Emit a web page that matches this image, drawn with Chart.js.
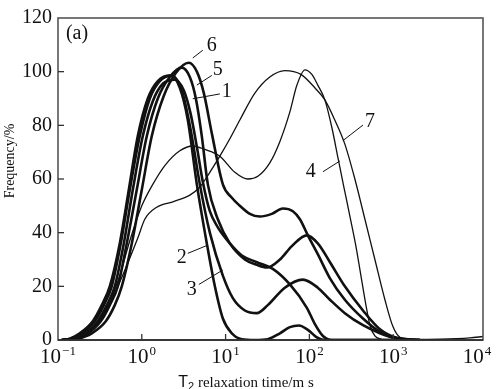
<!DOCTYPE html>
<html>
<head>
<meta charset="utf-8">
<script src="https://cdn.jsdelivr.net/npm/chart.js@4.4.1/dist/chart.umd.min.js"></script>
<style>
  body { margin: 0; background: #fff; }
  canvas { display: block; }
</style>
</head>
<body>
<canvas id="chart" width="498" height="389" style="width:498px;height:389px"></canvas>
<script>
// axis ticks
const t2Ticks = [0.1, 1, 10, 100, 1000, 10000];
const t2TickExp = ['\u22121', '0', '1', '2', '3', '4'];
const freqTicks = [0, 20, 40, 60, 80, 100, 120];

// curve 1
const curve1T2 = [0.111, 0.150, 0.209, 0.298, 0.382, 0.476, 0.610, 0.781, 1.028, 1.353, 1.782, 2.477, 3.176, 3.847, 4.539, 5.346, 6.486, 8.079, 11.24, 15.64, 23.62, 36.6, 58.5, 93.3, 116, 145, 186, 1205];
const curve1Freq = [0, 0.5, 2.5, 7, 13, 20, 36, 56, 76, 89, 95.5, 97, 93, 84, 72, 59, 48, 42, 36, 31.5, 29, 26.5, 20.7, 12, 6, 1.5, 0, 0];

// curve 2
const curve2T2 = [0.111, 0.138, 0.182, 0.260, 0.333, 0.415, 0.546, 0.700, 0.896, 1.18, 1.553, 2.219, 2.843, 3.542, 4.539, 5.97, 7.447, 9.275, 11.88, 15.64, 22.36, 31.9, 44.5, 58.5, 75.0, 95.9, 120, 153, 1205];
const curve2Freq = [0, 0.5, 2.5, 7, 13, 20, 36, 56, 76, 90, 96.5, 98.6, 94, 82, 58, 36, 20, 8, 2.5, 0.3, 0, 0.3, 2.5, 4.8, 5.4, 3.8, 1.2, 0, 0];

// curve 3
const curve3T2 = [0.111, 0.142, 0.192, 0.275, 0.352, 0.438, 0.561, 0.719, 0.946, 1.246, 1.64, 2.281, 3.004, 3.847, 4.929, 6.486, 9.275, 12.21, 16.98, 23.62, 31.9, 50.9, 83.6, 126, 176, 265, 436, 695, 1109, 2085];
const curve3Freq = [0, 0.5, 2.5, 7, 13, 20, 36, 56, 76, 90, 96.5, 98.5, 93, 78, 58, 40, 24, 15.6, 11, 10, 13, 19.5, 22.5, 19.5, 15, 10, 5.5, 2.5, 0.5, 0];

// curve 4
const curve4T2 = [0.111, 0.154, 0.214, 0.307, 0.415, 0.546, 0.719, 1.0, 1.353, 1.883, 2.843, 4.064, 5.649, 8.537, 12.9, 18.44, 24.28, 33.7, 44.5, 58.5, 71.0, 88.4, 107, 126, 153, 186, 219, 258, 305, 359, 412, 473, 528, 605, 734];
const curve4Freq = [0, 0.5, 2.5, 7, 14, 24, 37, 50, 58, 65, 70.5, 72.3, 71, 68.5, 62.5, 60, 61, 66, 74, 85, 95, 100.7, 99, 95, 89.5, 79, 68, 57, 46, 35, 24, 13, 5.5, 1.5, 0.2];

// curve 5
const curve5T2 = [0.111, 0.158, 0.227, 0.324, 0.415, 0.517, 0.662, 0.871, 1.148, 1.553, 2.159, 3.004, 3.742, 4.415, 5.2, 6.138, 8.079, 11.24, 16.98, 23.62, 31.1, 44.5, 61.8, 93.3, 126, 176, 265, 436, 695, 1109, 2085];
const curve5Freq = [0, 0.5, 2.5, 7, 13, 20, 36, 56, 76, 90, 98, 101.5, 98, 90, 76, 58, 45, 36, 30, 28, 27, 30, 35, 39, 36, 29, 20, 11, 4, 0.8, 0];

// curve 6
const curve6T2 = [0.111, 0.172, 0.253, 0.372, 0.476, 0.577, 0.760, 1.0, 1.316, 1.832, 2.546, 3.641, 4.539, 5.50, 6.85, 9.275, 11.88, 14.8, 19.48, 25.65, 35.6, 48.3, 63.5, 77.1, 95.9, 126, 176, 265, 436, 695, 1109, 2085];
const curve6Freq = [0, 0.5, 2.5, 7, 13, 20, 36, 56, 76, 91, 99.5, 103.3, 100, 92, 77, 58, 53, 50, 47, 46, 47, 49, 48, 45, 39, 32, 23, 15, 8, 3, 0.6, 0];

// curve 7
const curve7T2 = [0.111, 0.158, 0.227, 0.315, 0.438, 0.627, 0.896, 1.086, 1.51, 2.345, 3.742, 4.929, 6.486, 8.537, 11.24, 14.8, 22.36, 33.7, 50.9, 79.2, 116, 153, 201, 265, 349, 460, 605, 797, 993, 1205, 1585, 3614, 8248, 11800];
const curve7Freq = [0, 0.5, 2.5, 7, 15, 26, 38, 45, 49.5, 51.5, 54, 57, 62.5, 68.5, 75, 82, 92, 98, 100.4, 99, 94, 89.5, 82, 73, 60, 45, 30, 15, 5, 1, 0.2, 0.3, 0.8, 1.3];

// curve labels and their leader lines
const labelText = ['1', '2', '3', '4', '5', '6', '7'];
const labelT2 = [10.35, 3.0, 3.95, 104, 8.08, 6.85, 528];
const labelFreq = [92.5, 30.8, 18.9, 62.7, 100.8, 109.5, 81.2];
const leaderFromT2 = [8.54, 3.54, 4.80, 145, 6.85, 5.35, 436];
const leaderFromFreq = [91.7, 32.3, 20.7, 62.7, 98.6, 108, 80.1];
const leaderToT2 = [4.06, 5.97, 9.28, 231, 4.54, 4.06, 251];
const leaderToFreq = [89.9, 35.2, 26.1, 66.7, 95, 105.1, 74.3];

const series = [
  { name: '1', t2: curve1T2, freq: curve1Freq, width: 2.6 },
  { name: '2', t2: curve2T2, freq: curve2Freq, width: 2.6 },
  { name: '3', t2: curve3T2, freq: curve3Freq, width: 2.6 },
  { name: '4', t2: curve4T2, freq: curve4Freq, width: 1.3 },
  { name: '5', t2: curve5T2, freq: curve5Freq, width: 2.6 },
  { name: '6', t2: curve6T2, freq: curve6Freq, width: 2.6 },
  { name: '7', t2: curve7T2, freq: curve7Freq, width: 1.3 },
];

const serif = '"Liberation Serif", "Times New Roman", serif';
const sans = '"Liberation Sans", Arial, sans-serif';

const decor = {
  id: 'decor',
  afterDraw(chart) {
    const ctx = chart.ctx;
    const a = chart.chartArea;
    const xs = chart.scales.x;
    const ys = chart.scales.y;
    ctx.save();

    // frame
    ctx.strokeStyle = '#555';
    ctx.lineWidth = 1.6;
    ctx.strokeRect(a.left, a.top, a.right - a.left, a.bottom - a.top);
    ctx.strokeStyle = '#222';
    ctx.beginPath();
    ctx.moveTo(a.left, a.bottom);
    ctx.lineTo(a.right, a.bottom);
    ctx.stroke();

    // inward tick marks
    ctx.lineWidth = 1.3;
    ctx.strokeStyle = '#333';
    freqTicks.slice(1, -1).forEach(v => {
      const y = ys.getPixelForValue(v);
      ctx.beginPath();
      ctx.moveTo(a.left, y);
      ctx.lineTo(a.left + 6, y);
      ctx.stroke();
    });
    t2Ticks.slice(1, -1).forEach(v => {
      const x = xs.getPixelForValue(v);
      ctx.beginPath();
      ctx.moveTo(x, a.bottom);
      ctx.lineTo(x, a.bottom - 6);
      ctx.stroke();
    });

    // x tick labels 10^n
    ctx.fillStyle = '#111';
    ctx.textAlign = 'left';
    ctx.textBaseline = 'alphabetic';
    t2Ticks.forEach((v, i) => {
      const x = xs.getPixelForValue(v);
      ctx.font = '21px ' + serif;
      const w1 = ctx.measureText('10').width;
      ctx.font = '13px ' + serif;
      const w2 = ctx.measureText(t2TickExp[i]).width;
      const left = x - (w1 + w2 + 1) / 2;
      ctx.font = '21px ' + serif;
      ctx.fillText('10', left, a.bottom + 23);
      ctx.font = '13px ' + serif;
      ctx.fillText(t2TickExp[i], left + w1 + 1, a.bottom + 15);
    });

    // x axis title
    ctx.font = '16px ' + sans;
    const wT = ctx.measureText('T').width;
    ctx.font = '11px ' + sans;
    const wSub = ctx.measureText('2').width;
    ctx.font = '15px ' + serif;
    const rest = ' relaxation time/m s';
    const wRest = ctx.measureText(rest).width;
    let tx = 246 - (wT + wSub + wRest) / 2;
    const base = 387;
    ctx.font = '16px ' + sans;
    ctx.fillText('T', tx, base);
    tx += wT;
    ctx.font = '11px ' + sans;
    ctx.fillText('2', tx, base + 3);
    tx += wSub;
    ctx.font = '15px ' + serif;
    ctx.fillText(rest, tx, base);

    // y axis title
    ctx.save();
    ctx.translate(10, 161);
    ctx.rotate(-Math.PI / 2);
    ctx.textAlign = 'center';
    ctx.textBaseline = 'middle';
    ctx.font = '14px ' + serif;
    ctx.fillText('Frequency/%', 0, 0);
    ctx.restore();

    // panel tag
    ctx.textAlign = 'center';
    ctx.textBaseline = 'middle';
    ctx.font = '20px ' + serif;
    ctx.fillText('(a)', a.left + 19, a.top + 16);

    // curve labels with leaders
    ctx.lineWidth = 1;
    ctx.strokeStyle = '#111';
    labelText.forEach((t, i) => {
      ctx.beginPath();
      ctx.moveTo(xs.getPixelForValue(leaderFromT2[i]), ys.getPixelForValue(leaderFromFreq[i]));
      ctx.lineTo(xs.getPixelForValue(leaderToT2[i]), ys.getPixelForValue(leaderToFreq[i]));
      ctx.stroke();
      ctx.fillText(t, xs.getPixelForValue(labelT2[i]), ys.getPixelForValue(labelFreq[i]));
    });

    ctx.restore();
  }
};

new Chart(document.getElementById('chart'), {
  type: 'line',
  data: {
    datasets: series.map(s => ({
      label: s.name,
      data: s.t2.map((t, i) => ({ x: t, y: s.freq[i] })),
      borderColor: '#111',
      borderWidth: s.width,
      pointRadius: 0,
      fill: false,
      tension: 0.4,
      cubicInterpolationMode: 'monotone',
    })),
  },
  options: {
    responsive: false,
    animation: false,
    devicePixelRatio: 1,
    layout: { padding: { top: 9, right: 15, bottom: 0, left: 0 } },
    plugins: { legend: { display: false }, tooltip: { enabled: false } },
    scales: {
      x: {
        type: 'logarithmic',
        min: 0.1,
        max: 11800,
        afterBuildTicks: s => { s.ticks = t2Ticks.map(v => ({ value: v })); },
        afterFit: s => { s.height = 49; },
        ticks: { display: false },
        grid: { display: false },
        border: { display: false },
      },
      y: {
        min: 0,
        max: 120,
        afterBuildTicks: s => { s.ticks = freqTicks.map(v => ({ value: v })); },
        afterFit: s => { s.width = 58; },
        ticks: {
          color: '#111',
          padding: 6,
          font: { family: serif, size: 20 },
        },
        grid: { display: false, drawTicks: false },
        border: { display: false },
      },
    },
  },
  plugins: [decor],
});
</script>
</body>
</html>
